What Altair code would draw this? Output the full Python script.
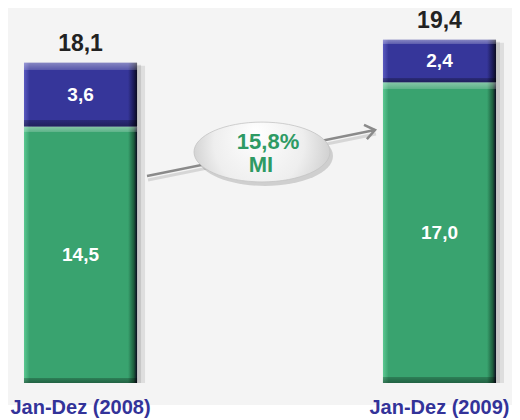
import altair as alt
import pandas as pd

periods = ["Jan-Dez (2008)", "Jan-Dez (2009)"]
green_vals = [14.5, 17.0]
blue_vals = [3.6, 2.4]
totals = [18.1, 19.4]
green_labels = ["14,5", "17,0"]
blue_labels = ["3,6", "2,4"]
total_labels = ["18,1", "19,4"]
growth_label = ["15,8%", "MI"]

rows = []
for p, g, b, t, gl, bl, tl in zip(periods, green_vals, blue_vals, totals,
                                  green_labels, blue_labels, total_labels):
    rows.append(dict(period=p, seg="green", start=0.0, end=g, mid=g / 2, label=gl, total=t, tlabel=tl))
    rows.append(dict(period=p, seg="blue", start=g, end=g + b, mid=g + b / 2, label=bl, total=t, tlabel=tl))
df = pd.DataFrame(rows)
tot_df = pd.DataFrame({"period": periods, "total": totals, "tlabel": total_labels})

W, H = 504, 412
FONT = "Liberation Sans"

xenc = alt.X("period:N", sort=periods,
             scale=alt.Scale(paddingInner=0.685, paddingOuter=0.0445), axis=None)
yscale = alt.Scale(domain=[-2.09, 21.19], nice=False, zero=False)


def hgrad(light, base, dark):
    return alt.Gradient(
        gradient="linear", x1=0, y1=0, x2=1, y2=0,
        stops=[
            alt.GradientStop(offset=0, color=light),
            alt.GradientStop(offset=0.05, color=base),
            alt.GradientStop(offset=0.92, color=base),
            alt.GradientStop(offset=0.97, color=dark),
            alt.GradientStop(offset=1, color="#0b0b20"),
        ],
    )


def vgrad(top_frac, bot_frac):
    return alt.Gradient(
        gradient="linear", x1=0, y1=0, x2=0, y2=1,
        stops=[
            alt.GradientStop(offset=0, color="rgba(255,255,255,0.40)"),
            alt.GradientStop(offset=top_frac, color="rgba(255,255,255,0.18)"),
            alt.GradientStop(offset=top_frac + 0.001, color="rgba(255,255,255,0)"),
            alt.GradientStop(offset=1 - bot_frac - 0.001, color="rgba(0,0,0,0)"),
            alt.GradientStop(offset=1 - bot_frac, color="rgba(0,0,0,0.22)"),
            alt.GradientStop(offset=1, color="rgba(0,0,0,0.4)"),
        ],
    )


base = alt.Chart(df)

bg = alt.Chart(pd.DataFrame({"a": [0]})).mark_rect(color="#f4f4f4").encode(
    x=alt.value(0), x2=alt.value(W), y=alt.value(0), y2=alt.value(397)
)

shadow1 = alt.Chart(tot_df).mark_bar(color="#000000", opacity=0.09, xOffset=8, yOffset=3).encode(
    x=xenc, y=alt.Y("total:Q", scale=yscale, axis=None), y2=alt.Y2(datum=0)
)
shadow2 = alt.Chart(tot_df).mark_bar(color="#000000", opacity=0.10, xOffset=4, yOffset=2).encode(
    x=xenc, y=alt.Y("total:Q", scale=yscale, axis=None), y2=alt.Y2(datum=0)
)

green = base.transform_filter(alt.datum.seg == "green").mark_bar(
    color=hgrad("#5cc892", "#39a36f", "#1d5e3d")
).encode(x=xenc, y=alt.Y("start:Q", scale=yscale, axis=None), y2="end:Q")
green_ov = base.transform_filter(alt.datum.seg == "green").mark_bar(
    color=vgrad(0.022, 0.02)
).encode(x=xenc, y=alt.Y("start:Q", scale=yscale, axis=None), y2="end:Q")

blue = base.transform_filter(alt.datum.seg == "blue").mark_bar(
    color=hgrad("#5a5abf", "#36369a", "#1a1a55")
).encode(x=xenc, y=alt.Y("start:Q", scale=yscale, axis=None), y2="end:Q")
blue_ov = base.transform_filter(alt.datum.seg == "blue").mark_bar(
    color=vgrad(0.11, 0.1)
).encode(x=xenc, y=alt.Y("start:Q", scale=yscale, axis=None), y2="end:Q")

seg_text = base.mark_text(color="white", fontSize=19, fontWeight="bold", font=FONT,
                          baseline="middle").encode(
    x=xenc, y=alt.Y("mid:Q", scale=yscale, axis=None), text="label:N"
)

tot_text = alt.Chart(tot_df).mark_text(color="#222222", fontSize=23, fontWeight="bold", font=FONT,
                                       baseline="middle", dy=-19).encode(
    x=xenc, y=alt.Y("total:Q", scale=yscale, axis=None), text="tlabel:N"
)

cat_text = alt.Chart(tot_df).mark_text(color="#333399", fontSize=20, fontWeight="bold", font=FONT,
                                       baseline="middle").encode(
    x=xenc, y=alt.value(400), text="period:N"
)

one = pd.DataFrame({"a": [0]})
arrow_shadow = alt.Chart(one).mark_rule(color="#000000", opacity=0.12, strokeWidth=3).encode(
    x=alt.value(140), y=alt.value(172), x2=alt.value(368), y2=alt.value(126)
)
arrow = alt.Chart(one).mark_rule(color="#8a8a8a", strokeWidth=2.5).encode(
    x=alt.value(139), y=alt.value(168), x2=alt.value(367), y2=alt.value(122)
)
arrow_head = alt.Chart(one).mark_point(
    shape="M -1 -0.75 L 0 0 L -1 0.75", filled=False, stroke="#8a8a8a", strokeWidth=2.5,
    size=380, angle=348.6, opacity=1
).encode(x=alt.value(367), y=alt.value(122))

ELL = "M -1 0 A 1 0.44 0 1 1 1 0 A 1 0.44 0 1 1 -1 0 Z"
ell_shadow = alt.Chart(one).mark_point(
    shape=ELL, filled=True, fill="#000000", opacity=0.15, size=136 ** 2, strokeWidth=0
).encode(x=alt.value(257), y=alt.value(148))
ellipse = alt.Chart(one).mark_point(
    shape=ELL, filled=True, opacity=1, size=136 ** 2, stroke="#c4c4c4", strokeWidth=0.8,
    fill=alt.Gradient(
        gradient="radial", x1=0.45, y1=0.35, r1=0, x2=0.5, y2=0.5, r2=0.6,
        stops=[
            alt.GradientStop(offset=0, color="#ffffff"),
            alt.GradientStop(offset=0.55, color="#eeeeee"),
            alt.GradientStop(offset=1, color="#c2c2c2"),
        ],
    ),
).encode(x=alt.value(254), y=alt.value(144))

g1 = alt.Chart(one).mark_text(color="#2e9a64", fontSize=22, fontWeight="bold", font=FONT,
                              baseline="middle").encode(
    x=alt.value(260), y=alt.value(134), text=alt.value(growth_label[0])
)
g2 = alt.Chart(one).mark_text(color="#2e9a64", fontSize=22, fontWeight="bold", font=FONT,
                              baseline="middle").encode(
    x=alt.value(253), y=alt.value(157), text=alt.value(growth_label[1])
)

chart = alt.layer(
    bg, shadow1, shadow2, green, green_ov, blue, blue_ov, seg_text, tot_text, cat_text,
    arrow_shadow, arrow, arrow_head, ell_shadow, ellipse, g1, g2
).properties(
    width=W, height=H, padding=0, background="white",
    autosize=alt.AutoSizeParams(type="none")
).configure_view(stroke=None)

chart.save("out.html", embed_options={"renderer": "svg", "actions": False})
